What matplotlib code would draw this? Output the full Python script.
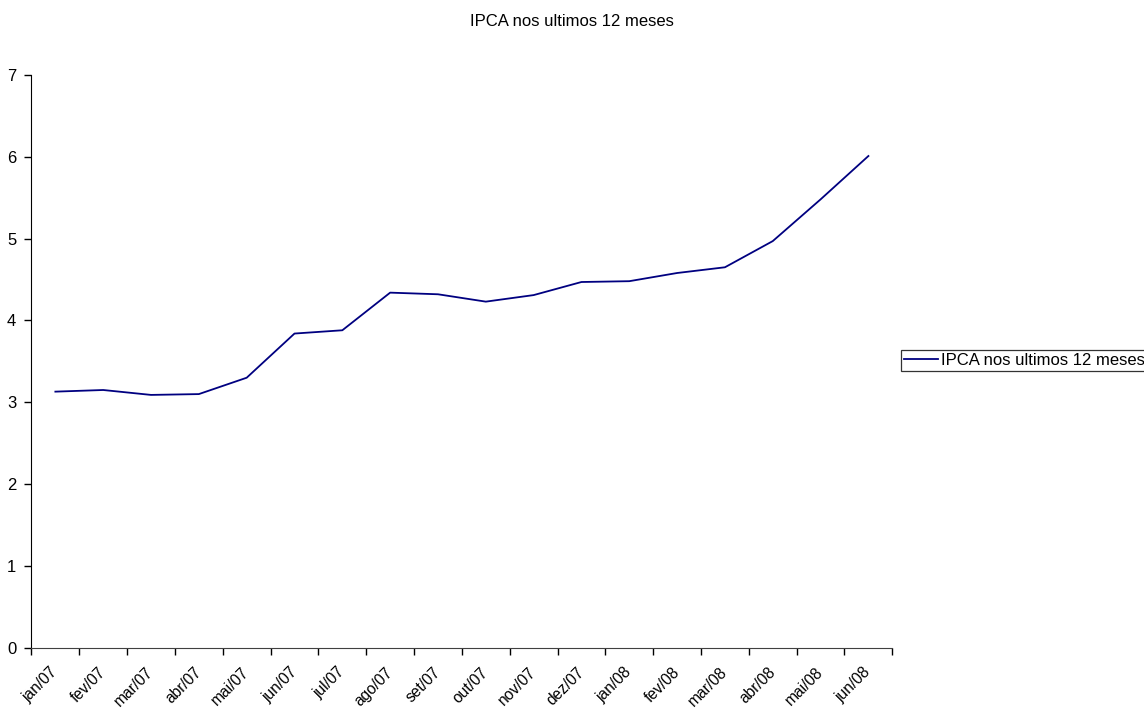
import numpy as np
import matplotlib
matplotlib.use("Agg")
import matplotlib.pyplot as plt
import matplotlib.transforms as mtransforms

plt.rcParams['font.family'] = ['Liberation Sans', 'DejaVu Sans']

meses = ["jan/07", "fev/07", "mar/07", "abr/07", "mai/07", "jun/07",
         "jul/07", "ago/07", "set/07", "out/07", "nov/07", "dez/07",
         "jan/08", "fev/08", "mar/08", "abr/08", "mai/08", "jun/08"]
ipca = [3.13, 3.15, 3.09, 3.10, 3.30, 3.84, 3.88, 4.34, 4.32, 4.23,
        4.31, 4.47, 4.48, 4.58, 4.65, 4.97, 5.48, 6.01]

fig = plt.figure(figsize=(11.44, 7.11), dpi=100)
ax = fig.add_axes([0.0275, 0.089, 0.7525, 0.8055])

x = np.arange(len(meses))
line, = ax.plot(x, ipca, color="#000080", linewidth=1.3,
                label="IPCA nos ultimos 12 meses")

ax.set_xlim(-0.5, len(meses) - 0.5)
ax.set_ylim(0, 7)
ax.set_yticks(range(0, 8))

ax.set_xticks(x)
ax.set_xticklabels(meses, rotation=45, ha="right", va="center",
                   rotation_mode="anchor", fontsize=11.2)
# rotulos um pouco a esquerda do centro da categoria
desloc = mtransforms.ScaledTranslation(-7 / 100, 0, fig.dpi_scale_trans)
for lbl in ax.get_xticklabels():
    lbl.set_transform(lbl.get_transform() + desloc)
ax.set_xticks(np.arange(len(meses) + 1) - 0.5, minor=True)
ax.tick_params(axis="x", which="major", length=0, pad=16)
ax.tick_params(axis="x", which="minor", length=5, width=1, color="black",
               direction="out")
ax.tick_params(axis="y", length=5, width=1, direction="out", labelsize=12,
               pad=6)

for s in ["top", "right"]:
    ax.spines[s].set_visible(False)
ax.spines["left"].set_color("black")
ax.spines["bottom"].set_color("#404040")

fig.text(0.5, 1 - 21 / 711, "IPCA nos ultimos 12 meses", ha="center",
         va="center", fontsize=12)

leg = fig.legend(handles=[line], loc="center left",
                 bbox_to_anchor=(901 / 1144, 1 - 360.5 / 711),
                 frameon=True, fancybox=False, fontsize=12,
                 handlelength=2.0, handletextpad=0.2, borderpad=0.2,
                 borderaxespad=0)
leg.get_frame().set_edgecolor("black")
leg.get_frame().set_linewidth(0.9)

fig.savefig("out.png", dpi=100)
